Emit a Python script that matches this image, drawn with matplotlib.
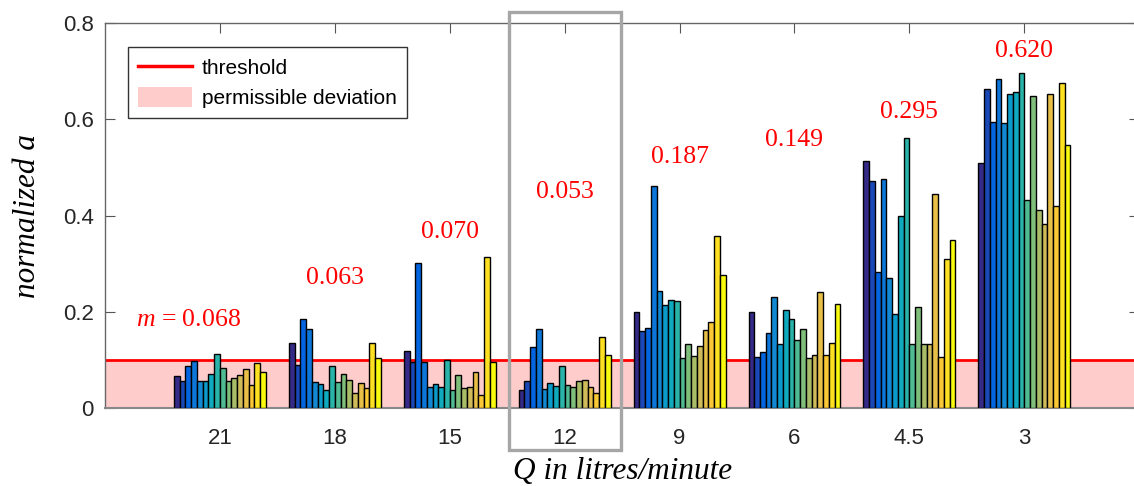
import matplotlib
matplotlib.use('Agg')
import matplotlib.pyplot as plt
import numpy as np
from matplotlib.colors import LinearSegmentedColormap
from matplotlib.patches import Rectangle, Patch
from matplotlib.lines import Line2D

# ======================
# DATA
# ======================
flow_labels = ['21', '18', '15', '12', '9', '6', '4.5', '3']
mean_labels = ['0.068', '0.063', '0.070', '0.053', '0.187', '0.149', '0.295', '0.620']
threshold = 0.1

# normalized a, 16 runs per flow rate
a_21 = [0.066, 0.056, 0.088, 0.098, 0.056, 0.056, 0.071, 0.112,
        0.083, 0.056, 0.063, 0.068, 0.081, 0.049, 0.093, 0.075]
a_18 = [0.135, 0.089, 0.185, 0.164, 0.054, 0.050, 0.037, 0.088,
        0.054, 0.071, 0.058, 0.032, 0.052, 0.041, 0.135, 0.104]
a_15 = [0.118, 0.097, 0.302, 0.097, 0.044, 0.051, 0.044, 0.100,
        0.037, 0.068, 0.042, 0.044, 0.075, 0.028, 0.314, 0.096]
a_12 = [0.037, 0.057, 0.128, 0.164, 0.040, 0.053, 0.046, 0.088,
        0.049, 0.044, 0.057, 0.059, 0.044, 0.032, 0.147, 0.111]
a_9 = [0.199, 0.160, 0.167, 0.462, 0.244, 0.215, 0.224, 0.222,
       0.104, 0.133, 0.109, 0.129, 0.163, 0.179, 0.358, 0.277]
a_6 = [0.200, 0.107, 0.116, 0.157, 0.231, 0.133, 0.203, 0.186,
       0.142, 0.164, 0.104, 0.111, 0.242, 0.110, 0.136, 0.217]
a_45 = [0.513, 0.472, 0.282, 0.476, 0.271, 0.196, 0.400, 0.560,
        0.133, 0.210, 0.133, 0.133, 0.444, 0.107, 0.309, 0.350]
a_3 = [0.510, 0.663, 0.595, 0.683, 0.593, 0.653, 0.656, 0.695,
       0.433, 0.648, 0.411, 0.383, 0.652, 0.420, 0.676, 0.546]

groups = [a_21, a_18, a_15, a_12, a_9, a_6, a_45, a_3]

# ======================
# STYLE
# ======================
plt.rcParams['mathtext.fontset'] = 'custom'
plt.rcParams['mathtext.rm'] = 'Liberation Serif'
plt.rcParams['mathtext.it'] = 'Liberation Serif:italic'

# parula-like colormap
parula = LinearSegmentedColormap.from_list('parula', [
    (0.2081, 0.1663, 0.5292), (0.0117, 0.3875, 0.8820), (0.0793, 0.5200, 0.8312),
    (0.0228, 0.6535, 0.7768), (0.2178, 0.7250, 0.6193), (0.5709, 0.7485, 0.4494),
    (0.8507, 0.7299, 0.3360), (0.9955, 0.7861, 0.1967), (0.9763, 0.9831, 0.0538)])

n_runs = len(a_21)
colors = parula(np.linspace(0, 1, n_runs))
group_width = 0.8
bar_w = group_width / n_runs
label_y = [0.183, 0.271, 0.366, 0.449, 0.522, 0.557, 0.615, 0.742]
axis_col = '#262626'

fig = plt.figure(figsize=(11.34, 4.86), dpi=100)
ax = fig.add_axes([0.0926, 0.160, 0.912, 0.793])

x = np.arange(1, len(groups) + 1)

# permissible band + threshold
ax.axhspan(0, threshold, color='#ffcccc', zorder=1, lw=0)
ax.axhline(threshold, color='red', lw=2.0, zorder=2)

for i, vals in enumerate(groups):
    offs = x[i] - group_width / 2 + bar_w * (np.arange(n_runs) + 0.5)
    ax.bar(offs, vals, width=bar_w, color=colors, edgecolor='black',
           linewidth=1.0, zorder=3)

for i, txt in enumerate(mean_labels):
    if i == 0:
        ax.text(x[i] - 0.27, label_y[i], '$m$ = ' + txt, color='red', fontsize=18.5,
                family='Liberation Serif', ha='center', va='center', zorder=5)
    else:
        ax.text(x[i], label_y[i], txt, color='red', fontsize=18.5,
                family='Liberation Serif', ha='center', va='center', zorder=5)

# highlight box around 12 l/min
ax.add_patch(Rectangle((x[3] - 0.485, -0.087), 0.975, 0.91, fill=False,
                       edgecolor='#a6a6a6', lw=2.4, clip_on=False, zorder=6))

ax.set_xlim(0, 9)
ax.set_ylim(0, 0.8)
ax.set_xticks(x)
ax.set_xticklabels(flow_labels)
ax.set_yticks([0, 0.2, 0.4, 0.6, 0.8])
ax.set_yticklabels(['0', '0.2', '0.4', '0.6', '0.8'])
ax.tick_params(direction='in', length=7, width=0.8, colors='#555555',
               labelcolor=axis_col, labelsize=16, top=True, right=True, pad=8)
ax.tick_params(axis='x', pad=14)
for lab in ax.get_xticklabels() + ax.get_yticklabels():
    lab.set_family('Liberation Sans')
for s in ax.spines.values():
    s.set_color('#666666')
    s.set_linewidth(1.0)
ax.spines['bottom'].set_color('#888888')
ax.spines['bottom'].set_linewidth(1.5)

ax.set_xlabel('Q in litres/minute', fontsize=22.5, family='Liberation Serif',
              style='italic', color='black', labelpad=6)
ax.set_ylabel('normalized a', fontsize=22.5, family='Liberation Serif',
              style='italic', color='black', labelpad=15)

handles = [Line2D([0], [0], color='red', lw=2.5),
           Patch(facecolor='#ffcccc', edgecolor='none')]
leg = ax.legend(handles, ['threshold', 'permissible deviation'], loc='upper left',
                bbox_to_anchor=(0.022, 0.938), borderaxespad=0, fancybox=False,
                framealpha=1, edgecolor='#333333',
                prop={'family': 'Liberation Sans', 'size': 15},
                handlelength=2.6, handleheight=1.05, handletextpad=0.45,
                borderpad=0.5, labelspacing=0.45)
leg.get_frame().set_linewidth(1.0)
leg.set_zorder(7)

plt.savefig('out.png', dpi=100)
